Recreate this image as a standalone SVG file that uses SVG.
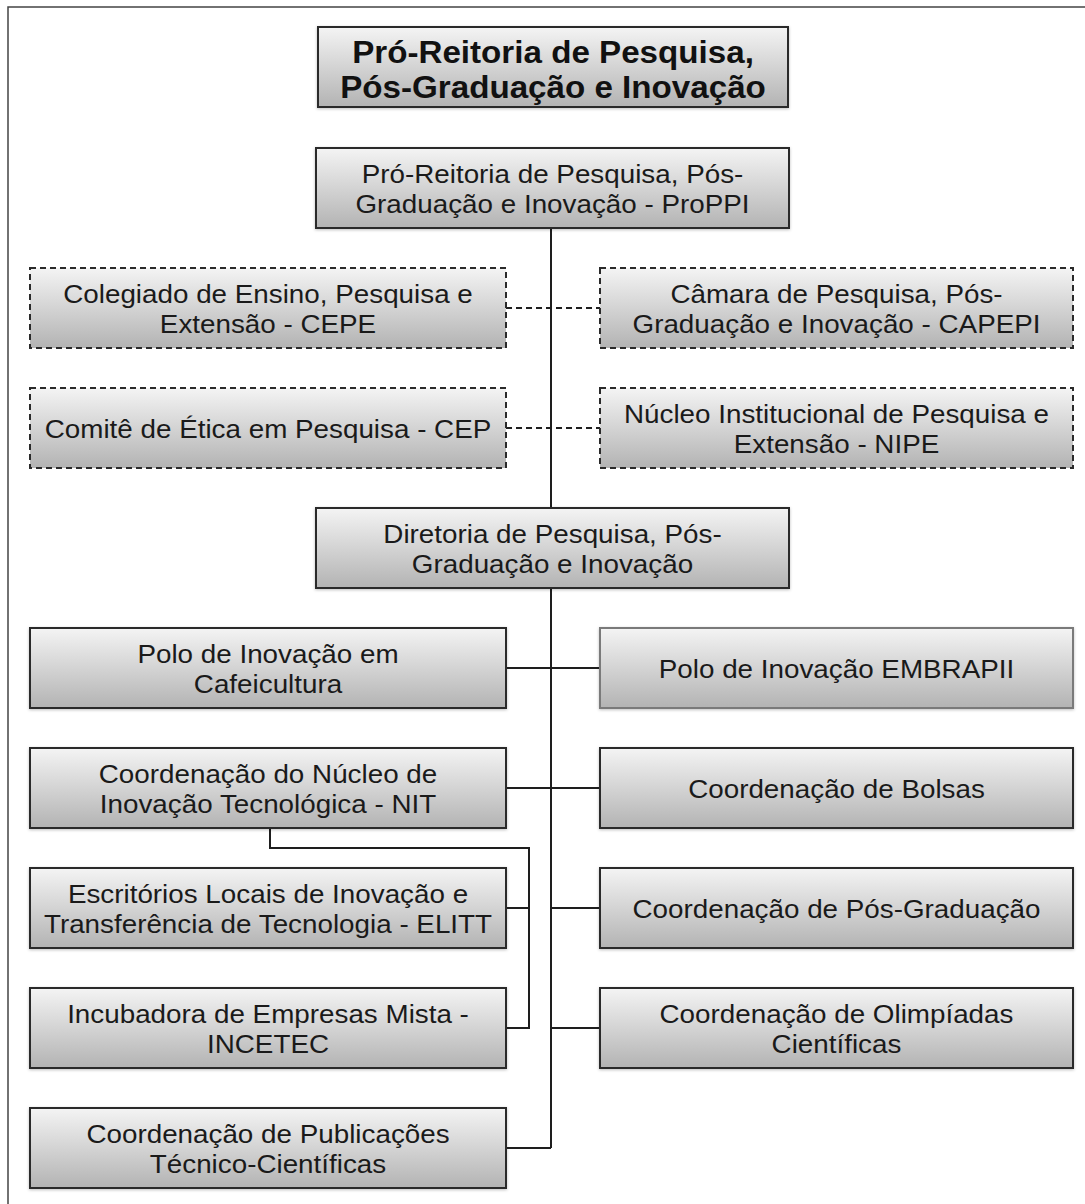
<svg xmlns="http://www.w3.org/2000/svg" width="1085" height="1204" viewBox="0 0 1085 1204">
<defs>
<linearGradient id="g" x1="0" y1="0" x2="0" y2="1">
<stop offset="0" stop-color="#f4f4f4"/>
<stop offset="1" stop-color="#b3b3b3"/>
</linearGradient>
<filter id="sh" x="-5%" y="-10%" width="110%" height="125%">
<feDropShadow dx="0" dy="1" stdDeviation="1.5" flood-color="#000" flood-opacity="0.25"/>
</filter>
</defs>
<style>
.box{fill:url(#g);stroke:#2a2a2a;stroke-width:2;filter:url(#sh)}
.dbox{fill:url(#g);stroke:#2a2a2a;stroke-width:2;stroke-dasharray:6 4}
.lite{stroke:#7a7a7a}
.t{font-family:"Liberation Sans",Arial,Helvetica,sans-serif;font-size:26px;fill:#1a1a1a;text-anchor:middle}
.tb{font-family:"Liberation Sans",Arial,Helvetica,sans-serif;font-size:31px;font-weight:bold;fill:#111;text-anchor:middle}
.ln{fill:none;stroke:#1e1e1e;stroke-width:2}
.dl{fill:none;stroke:#1e1e1e;stroke-width:2;stroke-dasharray:6 4}
.frame{fill:none;stroke:#444;stroke-width:1.5}
</style>
<rect width="1085" height="1204" fill="#fff"/>
<path class="frame" d="M8,1204 V7 H1085"/>

<g id="connectors">
<path class="ln" d="M551,228 V508"/>
<path class="ln" d="M551,588 V1148"/>
<path class="dl" d="M506,308 H600"/>
<path class="dl" d="M506,428 H600"/>
<path class="ln" d="M506,668 H600"/>
<path class="ln" d="M506,788 H600"/>
<path class="ln" d="M270,828 V848 H529 V1028 H506"/>
<path class="ln" d="M506,908 H529"/>
<path class="ln" d="M551,908 H600"/>
<path class="ln" d="M551,1028 H600"/>
<path class="ln" d="M506,1148 H551"/>
</g>

<g id="title">
<rect class="box" x="318" y="27" width="470" height="80"/>
<text class="tb" transform="translate(553,63) scale(1.07,1)">Pró-Reitoria de Pesquisa,</text>
<text class="tb" transform="translate(553,98) scale(1.07,1)">Pós-Graduação e Inovação</text>
</g>

<g id="proppi">
<rect class="box" x="316" y="148" width="473" height="80"/>
<text class="t" transform="translate(552.5,183) scale(1.07,1)">Pró-Reitoria de Pesquisa, Pós-</text>
<text class="t" transform="translate(552.5,213) scale(1.07,1)">Graduação e Inovação - ProPPI</text>
</g>

<g id="cepe">
<rect class="dbox" x="30" y="268" width="476" height="80"/>
<text class="t" transform="translate(268,303) scale(1.07,1)">Colegiado de Ensino, Pesquisa e</text>
<text class="t" transform="translate(268,333) scale(1.07,1)">Extensão - CEPE</text>
</g>

<g id="capepi">
<rect class="dbox" x="600" y="268" width="473" height="80"/>
<text class="t" transform="translate(836.5,303) scale(1.07,1)">Câmara de Pesquisa, Pós-</text>
<text class="t" transform="translate(836.5,333) scale(1.07,1)">Graduação e Inovação - CAPEPI</text>
</g>

<g id="cep">
<rect class="dbox" x="30" y="388" width="476" height="80"/>
<text class="t" transform="translate(268,438) scale(1.07,1)">Comitê de Ética em Pesquisa - CEP</text>
</g>

<g id="nipe">
<rect class="dbox" x="600" y="388" width="473" height="80"/>
<text class="t" transform="translate(836.5,423) scale(1.07,1)">Núcleo Institucional de Pesquisa e</text>
<text class="t" transform="translate(836.5,453) scale(1.07,1)">Extensão - NIPE</text>
</g>

<g id="diretoria">
<rect class="box" x="316" y="508" width="473" height="80"/>
<text class="t" transform="translate(552.5,543) scale(1.07,1)">Diretoria de Pesquisa, Pós-</text>
<text class="t" transform="translate(552.5,573) scale(1.07,1)">Graduação e Inovação</text>
</g>

<g id="polo-cafe">
<rect class="box" x="30" y="628" width="476" height="80"/>
<text class="t" transform="translate(268,663) scale(1.07,1)">Polo de Inovação em</text>
<text class="t" transform="translate(268,693) scale(1.07,1)">Cafeicultura</text>
</g>

<g id="embrapii">
<rect class="box lite" x="600" y="628" width="473" height="80"/>
<text class="t" transform="translate(836.5,678) scale(1.07,1)">Polo de Inovação EMBRAPII</text>
</g>

<g id="nit">
<rect class="box" x="30" y="748" width="476" height="80"/>
<text class="t" transform="translate(268,783) scale(1.07,1)">Coordenação do Núcleo de</text>
<text class="t" transform="translate(268,813) scale(1.07,1)">Inovação Tecnológica - NIT</text>
</g>

<g id="bolsas">
<rect class="box" x="600" y="748" width="473" height="80"/>
<text class="t" transform="translate(836.5,798) scale(1.07,1)">Coordenação de Bolsas</text>
</g>

<g id="elitt">
<rect class="box" x="30" y="868" width="476" height="80"/>
<text class="t" transform="translate(268,903) scale(1.07,1)">Escritórios Locais de Inovação e</text>
<text class="t" transform="translate(268,933) scale(1.07,1)">Transferência de Tecnologia - ELITT</text>
</g>

<g id="posgrad">
<rect class="box" x="600" y="868" width="473" height="80"/>
<text class="t" transform="translate(836.5,918) scale(1.07,1)">Coordenação de Pós-Graduação</text>
</g>

<g id="incetec">
<rect class="box" x="30" y="988" width="476" height="80"/>
<text class="t" transform="translate(268,1023) scale(1.07,1)">Incubadora de Empresas Mista -</text>
<text class="t" transform="translate(268,1053) scale(1.07,1)">INCETEC</text>
</g>

<g id="olimpiadas">
<rect class="box" x="600" y="988" width="473" height="80"/>
<text class="t" transform="translate(836.5,1023) scale(1.07,1)">Coordenação de Olimpíadas</text>
<text class="t" transform="translate(836.5,1053) scale(1.07,1)">Científicas</text>
</g>

<g id="publicacoes">
<rect class="box" x="30" y="1108" width="476" height="80"/>
<text class="t" transform="translate(268,1143) scale(1.07,1)">Coordenação de Publicações</text>
<text class="t" transform="translate(268,1173) scale(1.07,1)">Técnico-Científicas</text>
</g>
</svg>
